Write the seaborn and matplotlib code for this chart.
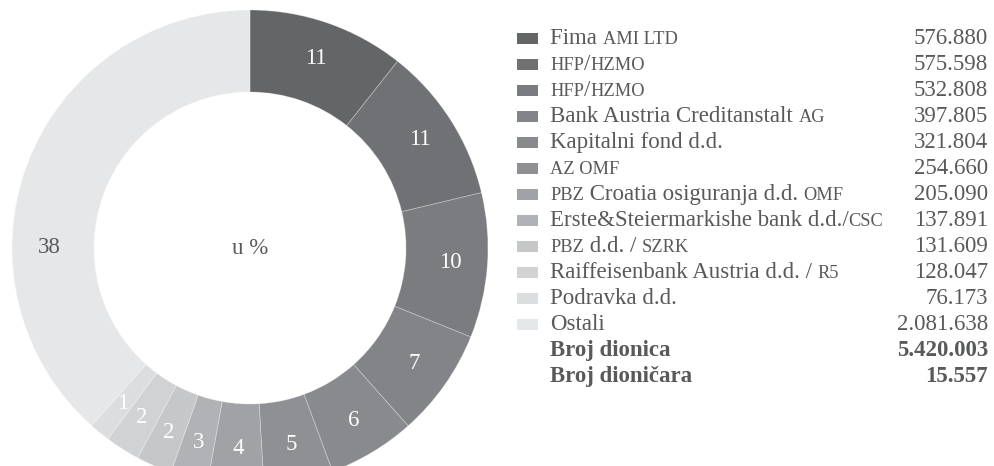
"""Vlasnička struktura — donut chart s tablicom dioničara."""

import re

import matplotlib
import numpy as np
import seaborn as sns

matplotlib.use("Agg")
import matplotlib.pyplot as plt
from matplotlib.font_manager import FontProperties
from matplotlib.patches import Rectangle

# ── Data ─────────────────────────────────────────────────────────────────────
holders = [
    "Fima AMI LTD",
    "HFP/HZMO",
    "HFP/HZMO",
    "Bank Austria Creditanstalt AG",
    "Kapitalni fond d.d.",
    "AZ OMF",
    "PBZ Croatia osiguranja d.d. OMF",
    "Erste&Steiermarkishe bank d.d./CSC",
    "PBZ d.d. / SZRK",
    "Raiffeisenbank Austria d.d. / R5",
    "Podravka d.d.",
    "Ostali",
]
shares = [576880, 575598, 532808, 397805, 321804, 254660,
          205090, 137891, 131609, 128047, 76173, 2081638]
total_labels = ["Broj dionica", "Broj dioničara"]
total_values = [5420003, 15557]
center_label = "u %"

# ── Style ────────────────────────────────────────────────────────────────────
colors = ["#646567", "#707175", "#7b7c80", "#838488", "#898a8e", "#8f9094",
          "#a1a2a5", "#b1b2b5", "#c6c7c9", "#d1d2d4", "#dcdddf", "#e6e7e8"]
TEXT = "#58595b"
W, H = 995, 466
FS = 16.5

sns.set_theme(style="white")
plt.rcParams["font.family"] = ["Liberation Serif", "DejaVu Serif"]

SC = re.compile(r"[A-Z][A-Z0-9]+(?: [A-Z][A-Z0-9]+)*")


def fmt(v: int) -> str:
    return f"{v:,}".replace(",", ".")


def segments(s: str):
    pos = 0
    for m in SC.finditer(s):
        if m.start() > pos:
            yield s[pos:m.start()], False
        yield m.group(), True
        pos = m.end()
    if pos < len(s):
        yield s[pos:], False


def text_width(renderer, s: str, fp: FontProperties) -> float:
    w1 = renderer.get_text_width_height_descent(s + "|", fp, ismath=False)[0]
    w2 = renderer.get_text_width_height_descent("|", fp, ismath=False)[0]
    return w1 - w2


fig = plt.figure(figsize=(W / 100, H / 100), dpi=100)
renderer = fig.canvas.get_renderer()

# ── Donut ────────────────────────────────────────────────────────────────────
cx, cy, R, r_in = 250, 248, 238, 156
ax = fig.add_axes([(cx - R) / W, (H - cy - R) / H, 2 * R / W, 2 * R / H])
wedges, _ = ax.pie(
    shares, colors=colors, startangle=90, counterclock=False, radius=1,
    wedgeprops=dict(width=(R - r_in) / R, edgecolor=(1, 1, 1, 0.3), linewidth=0.6),
)
ax.set_xlim(-1, 1)
ax.set_ylim(-1, 1)
ax.axis("off")

total = sum(shares)
lab_r = 0.845
for i, (w, v) in enumerate(zip(wedges, shares)):
    pct = round(v / total * 100)
    ang = np.deg2rad((w.theta1 + w.theta2) / 2)
    if i == len(shares) - 1:
        ang = np.pi  # "Ostali" label sits on the left
        col = TEXT
    else:
        col = "white"
    ax.text(lab_r * np.cos(ang), lab_r * np.sin(ang), str(pct),
            ha="center", va="center", fontsize=FS, color=col)
ax.text(0, 0, center_label, ha="center", va="center", fontsize=FS, color=TEXT)

# ── Legend table ─────────────────────────────────────────────────────────────
x_sq, sq_w, sq_h = 517, 21, 11
x_txt, x_num = 550, 988
base0, step = 44, 26

fp_reg = FontProperties(family=["Liberation Serif"], size=FS)
fp_sc = FontProperties(family=["Liberation Serif"], size=FS * 0.8)

for i, (name, v, c) in enumerate(zip(holders, shares, colors)):
    base = base0 + step * i
    fig.add_artist(Rectangle((x_sq / W, (H - base) / H), sq_w / W, sq_h / H,
                             transform=fig.transFigure, color=c, lw=0))
    x = x_txt
    for seg, small in segments(name):
        fp = fp_sc if small else fp_reg
        fig.text(x / W, (H - base) / H, seg, fontproperties=fp, color=TEXT,
                 ha="left", va="baseline")
        x += text_width(renderer, seg, fp)
    fig.text(x_num / W, (H - base) / H, fmt(v), fontproperties=fp_reg,
             color=TEXT, ha="right", va="baseline")

for j, (lab, v) in enumerate(zip(total_labels, total_values)):
    base = base0 + step * (len(holders) + j)
    fig.text(x_txt / W, (H - base) / H, lab, fontsize=FS, fontweight="bold",
             color=TEXT, ha="left", va="baseline")
    fig.text(x_num / W, (H - base) / H, fmt(v), fontsize=FS, fontweight="bold",
             color=TEXT, ha="right", va="baseline")

fig.savefig("out.png", dpi=100)
